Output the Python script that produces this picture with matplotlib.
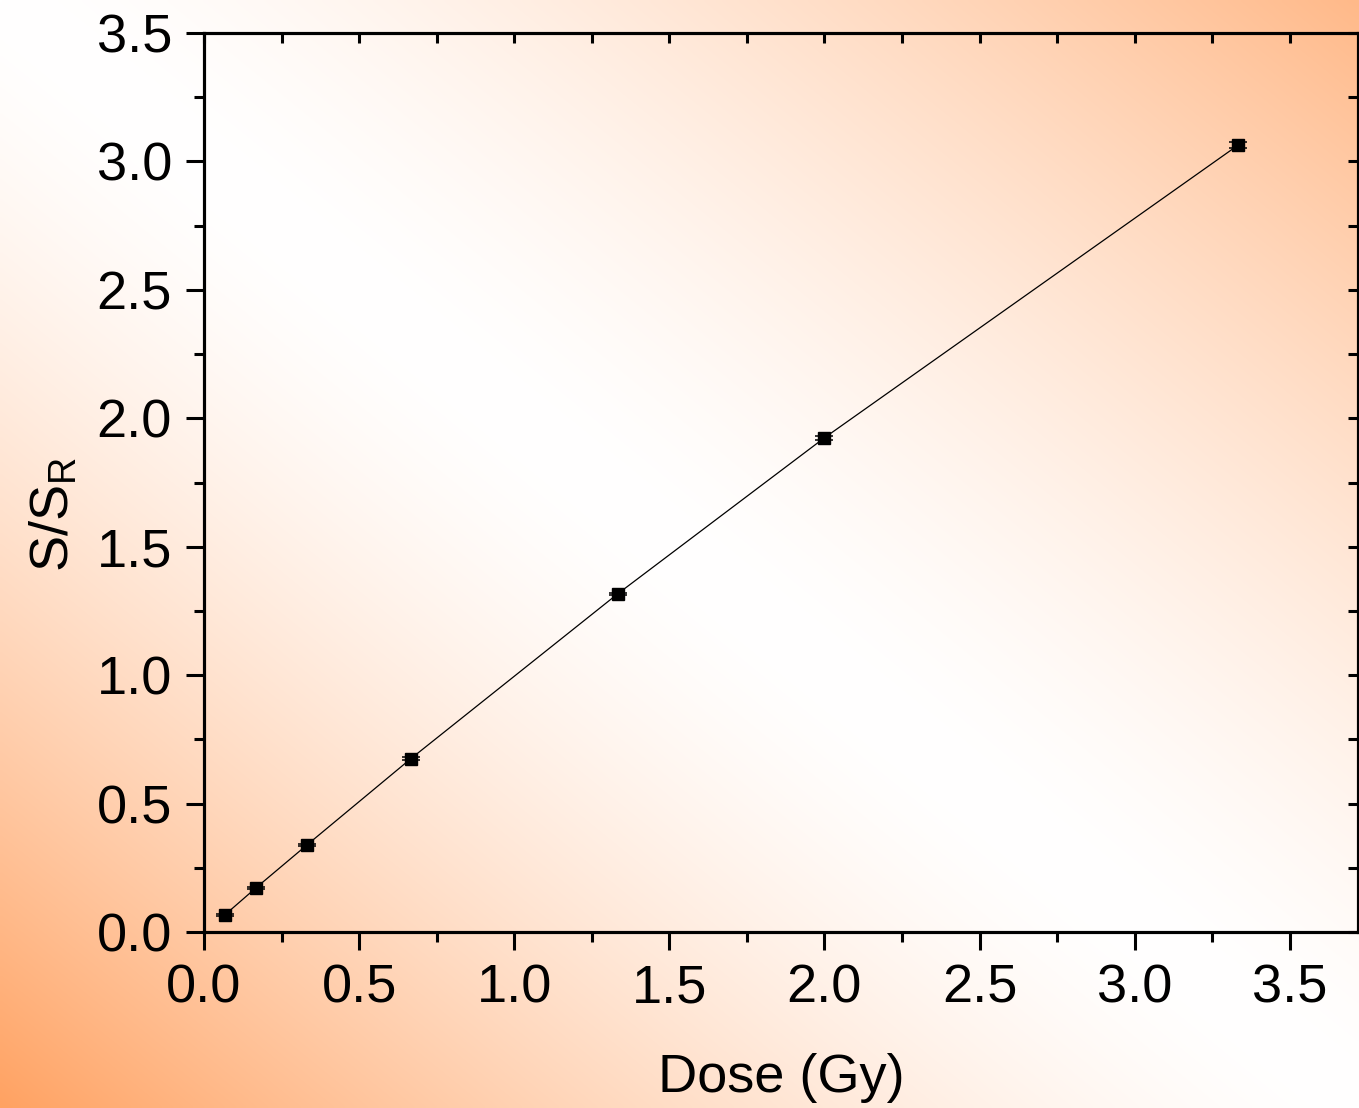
import numpy as np
import matplotlib
matplotlib.use("Agg")
import matplotlib.pyplot as plt
from matplotlib.ticker import MultipleLocator, FormatStrFormatter

plt.rcParams["font.family"] = ["Liberation Sans", "DejaVu Sans"]
plt.rcParams["mathtext.fontset"] = "custom"
plt.rcParams["mathtext.rm"] = "Liberation Sans"

# data
dose = [0.0667, 0.1667, 0.333, 0.667, 1.333, 2.0, 3.333]
ratio = [0.066, 0.171, 0.340, 0.675, 1.316, 1.924, 3.063]
ratio_err = [0.003, 0.004, 0.004, 0.005, 0.005, 0.008, 0.011]

fig = plt.figure(figsize=(13.59, 11.08), dpi=100)

# orange/white diagonal gradient behind everything
bg = fig.add_axes([0, 0, 1, 1], zorder=-10)
xx, yy = np.meshgrid(np.linspace(0, 1, 360), np.linspace(0, 1, 300))
d = xx - yy
a = np.abs(d) ** 1.5
a = np.where(d > 0, a * 0.75, a)
orange = np.array([255, 162, 98]) / 255.0
img = (1 - a[..., None]) + a[..., None] * orange
bg.imshow(img, aspect="auto", extent=[0, 1, 0, 1], origin="upper", interpolation="bilinear")
bg.axis("off")

ax = fig.add_axes([204 / 1359, 176 / 1108, 1154 / 1359, 899 / 1108])
ax.set_facecolor("none")

ax.plot(dose, ratio, color="black", lw=0.9, zorder=2)
ax.errorbar(dose, ratio, yerr=ratio_err, fmt="s", color="black", ms=8,
            capsize=6.5, capthick=1.1, elinewidth=1.0, zorder=3)

ax.set_xlim(0, 3.72)
ax.set_ylim(0, 3.5)
ax.xaxis.set_major_locator(MultipleLocator(0.5))
ax.xaxis.set_minor_locator(MultipleLocator(0.25))
ax.yaxis.set_major_locator(MultipleLocator(0.5))
ax.yaxis.set_minor_locator(MultipleLocator(0.25))
ax.xaxis.set_major_formatter(FormatStrFormatter("%.1f"))
ax.yaxis.set_major_formatter(FormatStrFormatter("%.1f"))

for s in ax.spines.values():
    s.set_linewidth(2.2)

ax.tick_params(which="both", width=2.2, labelsize=39, top=False, right=False)
ax.tick_params(which="major", direction="out", length=13, pad=10)
ax.tick_params(which="minor", direction="out", length=7)

ax.set_xlabel("Dose (Gy)", fontsize=39, labelpad=28)
ax.set_ylabel(r"S/S$_\mathregular{R}$", fontsize=39)
ax.yaxis.set_label_coords(-0.108, 0.465)

# inward ticks on top and right
tx = ax.twiny()
tx.set_xlim(ax.get_xlim())
tx.xaxis.set_major_locator(MultipleLocator(0.5))
tx.xaxis.set_minor_locator(MultipleLocator(0.25))
tx.tick_params(which="both", direction="in", length=7, width=2.2, labeltop=False)
ty = ax.twinx()
ty.set_ylim(ax.get_ylim())
ty.yaxis.set_major_locator(MultipleLocator(0.5))
ty.yaxis.set_minor_locator(MultipleLocator(0.25))
ty.tick_params(which="both", direction="in", length=7, width=2.2, labelright=False)
for t in (tx, ty):
    t.set_facecolor("none")
    for s in t.spines.values():
        s.set_linewidth(2.2)

fig.savefig("out.png", dpi=100)
